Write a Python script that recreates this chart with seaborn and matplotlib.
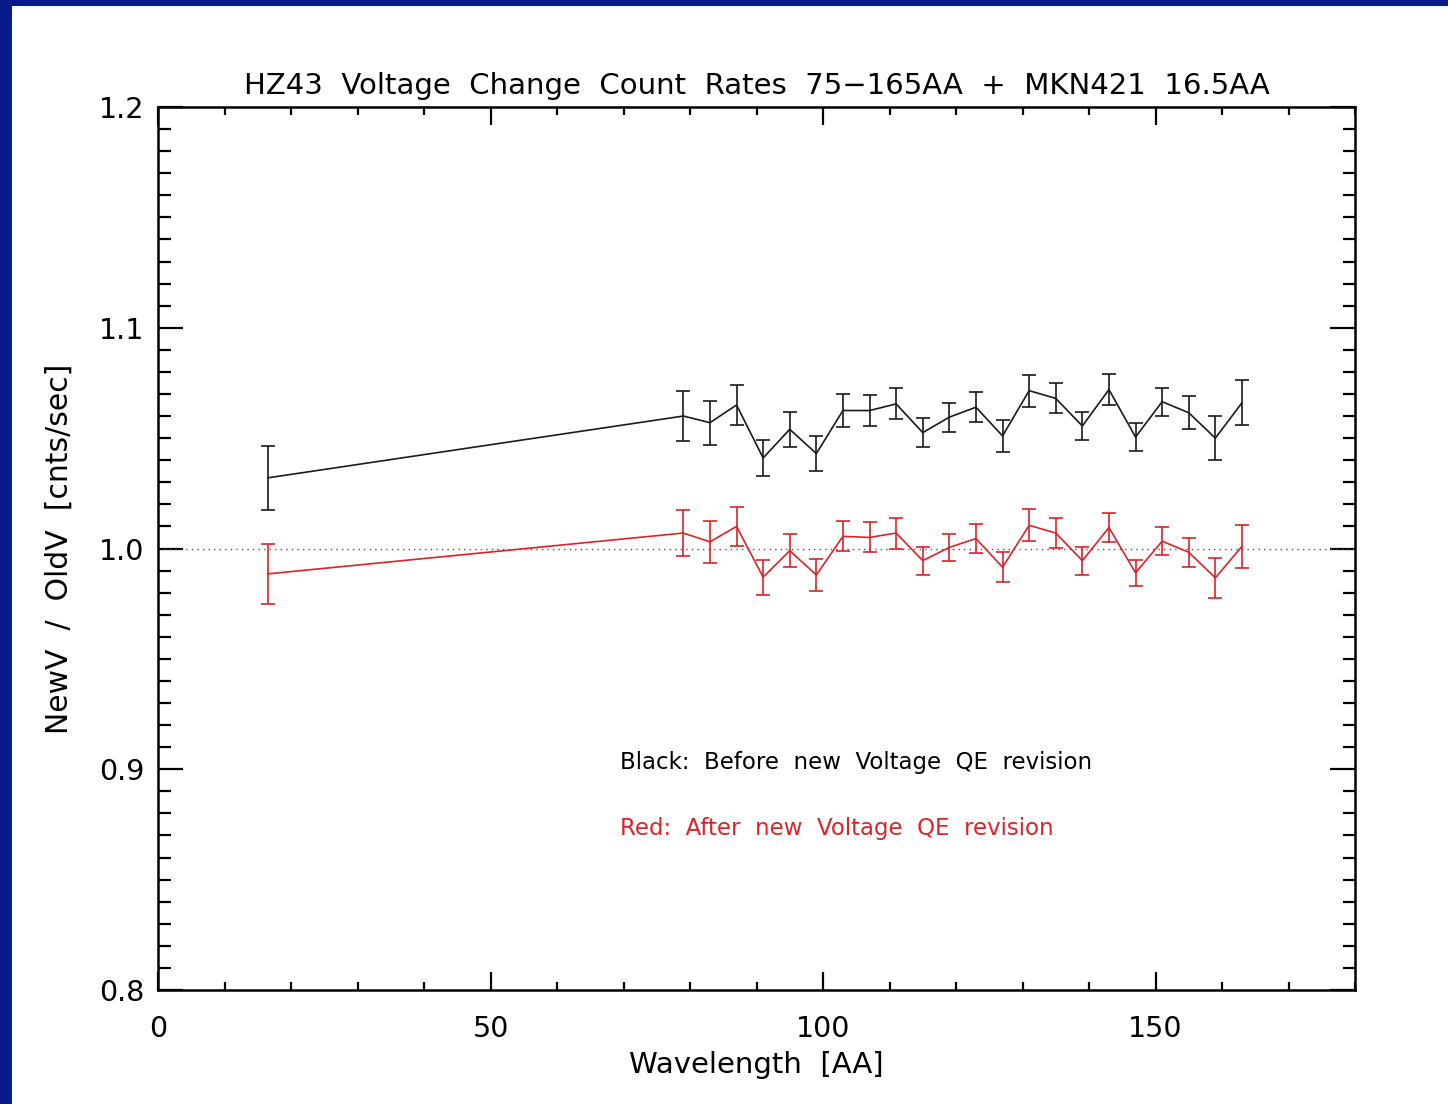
import numpy as np
import pandas as pd
import matplotlib
matplotlib.use("Agg")
import matplotlib.pyplot as plt
from matplotlib.ticker import MultipleLocator
import seaborn as sns

# ---- data ----
wavelength = [16.5, 79, 83, 87, 91, 95, 99, 103, 107, 111, 115, 119, 123,
              127, 131, 135, 139, 143, 147, 151, 155, 159, 163]
before = [1.032, 1.060, 1.057, 1.065, 1.041, 1.054, 1.043, 1.0625, 1.0625,
          1.0655, 1.0525, 1.0595, 1.064, 1.051, 1.0715, 1.068, 1.0555, 1.072,
          1.0505, 1.0665, 1.0615, 1.050, 1.066]
before_err = [0.0146, 0.0115, 0.010, 0.009, 0.008, 0.008, 0.008, 0.0075,
              0.007, 0.007, 0.0065, 0.0065, 0.0067, 0.0073, 0.0073, 0.0068,
              0.0064, 0.0072, 0.0064, 0.0063, 0.0074, 0.0101, 0.0102]
after = [0.9885, 1.007, 1.003, 1.010, 0.987, 0.999, 0.988, 1.0055, 1.005,
         1.007, 0.9945, 1.0005, 1.0045, 0.9915, 1.0105, 1.007, 0.9945, 1.0095,
         0.989, 1.0033, 0.9983, 0.9867, 1.001]
after_err = [0.0136, 0.0106, 0.0094, 0.0087, 0.0079, 0.0075, 0.0072, 0.0068,
             0.0068, 0.007, 0.0063, 0.006, 0.0064, 0.0068, 0.0072, 0.0068,
             0.0063, 0.0066, 0.006, 0.0064, 0.0066, 0.0092, 0.0098]

title = "HZ43  Voltage  Change  Count  Rates  75\u2212165AA  +  MKN421  16.5AA"
xlabel = "Wavelength  [AA]"
ylabel = "NewV  /  OldV  [cnts/sec]"
note_black = "Black:  Before  new  Voltage  QE  revision"
note_red = "Red:  After  new  Voltage  QE  revision"

RED = "#d8242a"

sns.set_theme(style="white")
plt.rcParams["font.family"] = ["DejaVu Sans"]
plt.rcParams["text.color"] = "black"
plt.rcParams["axes.labelcolor"] = "black"
plt.rcParams["xtick.color"] = "black"
plt.rcParams["ytick.color"] = "black"

df = pd.DataFrame({
    "wavelength": wavelength * 2,
    "ratio": before + after,
    "err": before_err + after_err,
    "series": ["before"] * len(before) + ["after"] * len(after),
})

fig = plt.figure(figsize=(14.48, 11.04), dpi=100)
fig.patch.set_facecolor("#081a8c")

# white panel as a background axes
bg = fig.add_axes([12 / 1448, 0, 1 - 12 / 1448, 1 - 6 / 1104], zorder=-10)
bg.set_facecolor("white")
bg.set_xticks([])
bg.set_yticks([])
for s in bg.spines.values():
    s.set_visible(False)

ax = fig.add_axes([158 / 1448, (1104 - 990) / 1104,
                   (1355 - 158) / 1448, (990 - 107) / 1104], zorder=1)
ax.set_facecolor("white")

ax.axhline(1.0, color="#555555", lw=1.0, ls=(0, (1, 3)), zorder=1)

palette = {"before": "#1a1a1a", "after": RED}
sns.lineplot(data=df, x="wavelength", y="ratio", hue="series",
             palette=palette, linewidth=1.2, legend=False, ax=ax,
             estimator=None, sort=False, zorder=3)

for name in ["before", "after"]:
    sub = df[df["series"] == name]
    ax.errorbar(sub["wavelength"], sub["ratio"], yerr=sub["err"], fmt="none",
                ecolor=palette[name], elinewidth=1.2, capsize=4.8,
                capthick=1.2, zorder=3)

ax.set_xlim(0, 180)
ax.set_ylim(0.8, 1.2)
ax.xaxis.set_major_locator(MultipleLocator(50))
ax.xaxis.set_minor_locator(MultipleLocator(10))
ax.yaxis.set_major_locator(MultipleLocator(0.1))
ax.yaxis.set_minor_locator(MultipleLocator(0.01))
ax.xaxis.set_major_formatter(matplotlib.ticker.FuncFormatter(lambda v, p: f"{v:.0f}"))
ax.yaxis.set_major_formatter(matplotlib.ticker.FuncFormatter(lambda v, p: f"{v:.1f}"))

for s in ax.spines.values():
    s.set_visible(True)
    s.set_color("black")
    s.set_linewidth(1.8)

ax.tick_params(axis="both", which="both", direction="in", top=True,
               right=True, bottom=True, left=True, color="black", width=1.6)
ax.tick_params(axis="x", which="major", length=13, labelsize=20.5, pad=18)
ax.tick_params(axis="x", which="minor", length=6)
ax.tick_params(axis="y", which="major", length=18, labelsize=20.5, pad=10)
ax.tick_params(axis="y", which="minor", length=9)

ax.set_title(title, fontsize=21, pad=9)
ax.set_xlabel(xlabel, fontsize=21, labelpad=6)
ax.set_ylabel(ylabel, fontsize=21.5, labelpad=18)

ax.text(69.5, 0.903, note_black, fontsize=16.5, color="black",
        ha="left", va="center")
ax.text(69.5, 0.873, note_red, fontsize=16.5, color=RED,
        ha="left", va="center")

fig.savefig("out.png", dpi=100, facecolor=fig.get_facecolor())
